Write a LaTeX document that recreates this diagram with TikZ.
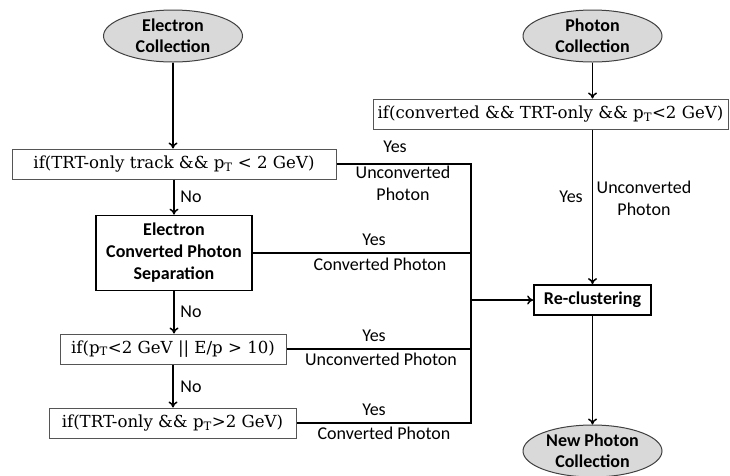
\documentclass[tikz,border=0pt]{standalone}
\usepackage{fontspec}
\setmainfont{Carlito}
\newfontfamily\condfont{DejaVu Serif}
\usetikzlibrary{arrows.meta,shapes.geometric}
\definecolor{ellfill}{HTML}{D9D9D9}
\definecolor{ellline}{HTML}{404040}
\definecolor{boxline}{HTML}{555555}
\begin{document}
\begin{tikzpicture}[x=1pt,y=-1pt,
 coll/.style={ellipse, draw=ellline, fill=ellfill, line width=1pt, minimum width=139pt, minimum height=52pt, inner sep=0pt, align=center, font=\fontsize{18}{21}\selectfont\bfseries},
 cond/.style={rectangle, draw=boxline, line width=1pt, minimum height=30pt, inner sep=0pt, font=\condfont\fontsize{16.6}{20}\selectfont},
 proc/.style={rectangle, draw=black, line width=1.8pt, inner sep=0pt, align=center, font=\fontsize{18}{22}\selectfont\bfseries},
 lab/.style={font=\fontsize{18}{22}\selectfont, inner sep=0pt, align=center},
 arr/.style={-{To[length=6pt,width=9pt]}, line width=1.5pt},
 conn/.style={line width=1.5pt}
]
\useasboundingbox (0,0) rectangle (730,475);
\node[coll] (ec) at (173,36) {Electron\\Collection};
\node[coll] (pc) at (592.5,36) {Photon\\Collection};
\node[coll] (npc) at (592.5,451) {New Photon\\Collection};
\node[cond, minimum width=324pt] (b1) at (174,164) {if(TRT-only track \&\& p\textsubscript{T} < 2 GeV)};
\node[proc, minimum width=156pt, minimum height=75pt] (b2) at (174,253) {Electron\\Converted Photon\\Separation};
\node[cond, minimum width=226pt] (b3) at (173,349) {if(p\textsubscript{T}<2 GeV || E/p > 10)};
\node[cond, minimum width=247pt] (b4) at (172.5,423) {if(TRT-only \&\& p\textsubscript{T}>2 GeV)};
\node[cond, minimum width=355pt] (bp) at (550.5,114) {if(converted \&\& TRT-only \&\& p\textsubscript{T}<2 GeV)};
\node[proc, minimum width=117pt, minimum height=30pt] (rc) at (592.5,300) {Re-clustering};
\coordinate (bus) at (471,300);

\draw[arr] (ec.south) -- (ec.south |- b1.north);
\draw[arr] (b1.south) -- (b1.south |- b2.north);
\draw[arr] (b2.south) -- (b2.south |- b3.north);
\draw[arr] (b3.south) -- (b3.south |- b4.north);
\draw[arr] (pc.south) -- (pc.south |- bp.north);
\draw[arr] (pc.south |- bp.south) -- (rc.north);
\draw[arr] (rc.south) -- (npc.north);
\draw[conn] (b1.east) -- (b1.east -| bus) -- (b4.east -| bus) -- (b4.east);
\draw[conn] (b2.east) -- (b2.east -| bus);
\draw[conn] (b3.east) -- (b3.east -| bus);
\draw[arr] (bus) -- (rc.west);

\node[lab] (n1) at (191,197) {No};
\node[lab] (n2) at (191,312) {No};
\node[lab] (n3) at (191,387) {No};
\node[lab] (y1) at (395,147) {Yes};
\node[lab] (u1) at (403,183) {Unconverted\\Photon};
\node[lab] (y2) at (374,240) {Yes};
\node[lab] (c2) at (380,264) {Converted Photon};
\node[lab] (y3) at (374,336) {Yes};
\node[lab] (u3) at (381,359) {Unconverted Photon};
\node[lab] (y4) at (374,410) {Yes};
\node[lab] (c4) at (384,433) {Converted Photon};
\node[lab] (yp) at (571,197) {Yes};
\node[lab] (up) at (644,198) {Unconverted\\Photon};
\end{tikzpicture}
\end{document}
